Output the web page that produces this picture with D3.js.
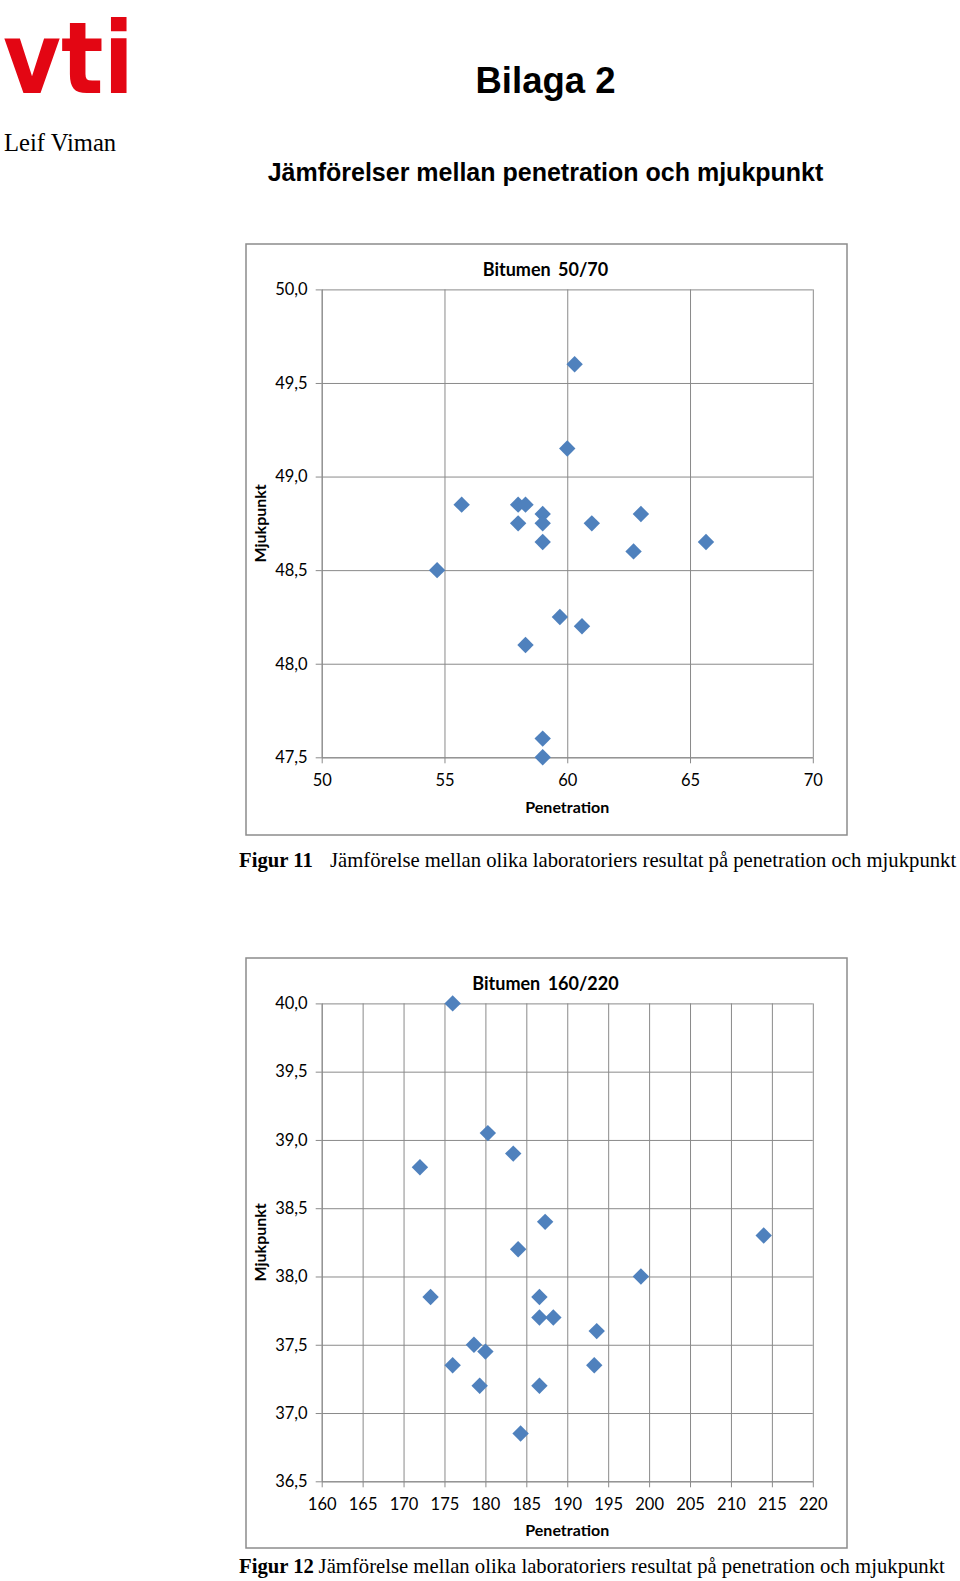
<!DOCTYPE html>
<html>
<head>
<meta charset="utf-8">
<script src="https://cdn.jsdelivr.net/npm/d3@7"></script>
<style>
  body { margin: 0; background: #fff; }
  svg { display: block; }
</style>
</head>
<body>
<div id="page"></div>
<script>
// Bitumen 50/70
const pen5070 = [60.3, 60.0, 55.7, 58.0, 58.3, 59.0, 59.0, 58.0, 59.0, 61.0, 63.0, 62.7, 65.65, 54.7, 59.7, 60.6, 58.3, 59.0, 59.0];
const mjuk5070 = [49.6, 49.15, 48.85, 48.85, 48.85, 48.8, 48.75, 48.75, 48.65, 48.75, 48.8, 48.6, 48.65, 48.5, 48.25, 48.2, 48.1, 47.6, 47.5];
const xTicks5070 = [50, 55, 60, 65, 70];
const yTicks5070 = [47.5, 48.0, 48.5, 49.0, 49.5, 50.0];

// Bitumen 160/220
const pen160220 = [176, 180.3, 183.4, 172, 187.3, 214, 184, 199, 173.3, 186.6, 186.6, 188.3, 193.6, 178.6, 180, 176, 193.3, 179.3, 186.6, 184.3];
const mjuk160220 = [40.0, 39.05, 38.9, 38.8, 38.4, 38.3, 38.2, 38.0, 37.85, 37.85, 37.7, 37.7, 37.6, 37.5, 37.45, 37.35, 37.35, 37.2, 37.2, 36.85];
const xTicks160220 = [160, 165, 170, 175, 180, 185, 190, 195, 200, 205, 210, 215, 220];
const yTicks160220 = [36.5, 37.0, 37.5, 38.0, 38.5, 39.0, 39.5, 40.0];

const W = 960, H = 1581;
const gridColor = "#8a8a8a";
const markerColor = "#4F81BD";
const chartFont = "Lato, 'Open Sans', sans-serif";

const svg = d3.select("#page").append("svg")
    .attr("width", W)
    .attr("height", H);

// header
svg.append("text")
    .attr("x", 3)
    .attr("y", 93)
    .attr("font-family", "'DejaVu Sans', sans-serif")
    .attr("font-weight", "bold")
    .attr("font-size", "99px")
    .attr("fill", "#e30613")
    .attr("textLength", 131)
    .attr("lengthAdjust", "spacingAndGlyphs")
    .text("vti");

svg.append("text")
    .attr("x", 545.5)
    .attr("y", 92.5)
    .attr("text-anchor", "middle")
    .attr("font-family", "'Liberation Sans', Arial, sans-serif")
    .attr("font-weight", "bold")
    .attr("font-size", "36.5px")
    .attr("fill", "#000")
    .text("Bilaga 2");

svg.append("text")
    .attr("x", 4)
    .attr("y", 151)
    .attr("font-family", "'Liberation Serif', 'Times New Roman', serif")
    .attr("font-size", "24.6px")
    .attr("fill", "#000")
    .text("Leif Viman");

svg.append("text")
    .attr("x", 545.5)
    .attr("y", 180.5)
    .attr("text-anchor", "middle")
    .attr("font-family", "'Liberation Sans', Arial, sans-serif")
    .attr("font-weight", "bold")
    .attr("font-size", "25px")
    .attr("fill", "#000")
    .text("Jämförelser mellan penetration och mjukpunkt");

const fmt = d => d3.format(".1f")(d).replace(".", ",");

function drawChart(cfg) {
    const frame = cfg.frame, plot = cfg.plot;
    const w = plot.right - plot.left, h = plot.bottom - plot.top;

    svg.append("rect")
        .attr("x", frame.x)
        .attr("y", frame.y)
        .attr("width", frame.w)
        .attr("height", frame.h)
        .attr("fill", "#fff")
        .attr("stroke", "#8c8c8c")
        .attr("stroke-width", 1.5);

    const x = d3.scaleLinear().domain(d3.extent(cfg.xTicks)).range([0, w]);
    const y = d3.scaleLinear().domain(d3.extent(cfg.yTicks)).range([h, 0]);

    const g = svg.append("g")
        .attr("transform", `translate(${plot.left},${plot.top})`);

    // gridlines
    g.append("g")
        .call(d3.axisLeft(y).tickValues(cfg.yTicks).tickSize(-w).tickFormat(""))
        .call(a => a.select(".domain").remove())
        .selectAll("line").attr("stroke", gridColor);

    g.append("g")
        .attr("transform", `translate(0,${h})`)
        .call(d3.axisBottom(x).tickValues(cfg.xTicks).tickSize(-h).tickFormat(""))
        .call(a => a.select(".domain").remove())
        .selectAll("line").attr("stroke", gridColor);

    // axes with labels
    const yAxis = g.append("g")
        .call(d3.axisLeft(y).tickValues(cfg.yTicks).tickSizeInner(6).tickSizeOuter(0).tickPadding(8).tickFormat(fmt));
    const xAxis = g.append("g")
        .attr("transform", `translate(0,${h})`)
        .call(d3.axisBottom(x).tickValues(cfg.xTicks).tickSizeInner(6).tickSizeOuter(0).tickPadding(11).tickFormat(d3.format("d")));

    [yAxis, xAxis].forEach(a => {
        a.select(".domain").attr("stroke", gridColor);
        a.selectAll("line").attr("stroke", gridColor);
        a.selectAll("text")
            .attr("font-family", chartFont)
            .attr("font-size", "16.5px")
            .attr("fill", "#000");
    });

    // markers
    const diamond = "M0,-8.2L8.2,0L0,8.2L-8.2,0Z";
    g.append("g")
        .selectAll("path")
        .data(cfg.xs.map((v, i) => ({pen: v, mjuk: cfg.ys[i]})))
        .enter().append("path")
            .attr("d", diamond)
            .attr("transform", d => `translate(${x(d.pen)},${y(d.mjuk)})`)
            .attr("fill", markerColor);

    // title
    svg.append("text")
        .attr("x", 545.5)
        .attr("y", cfg.titleY)
        .attr("text-anchor", "middle")
        .attr("font-family", chartFont)
        .attr("font-weight", "bold")
        .attr("font-size", "18px")
        .attr("fill", "#000")
        .attr("word-spacing", "3px")
        .text(cfg.title);

    // x axis label
    svg.append("text")
        .attr("x", plot.left + w / 2)
        .attr("y", cfg.xLabelY)
        .attr("text-anchor", "middle")
        .attr("font-family", chartFont)
        .attr("font-weight", "bold")
        .attr("font-size", "16px")
        .attr("fill", "#000")
        .text("Penetration");

    // y axis label
    svg.append("text")
        .attr("transform", `translate(260,${plot.top + h / 2}) rotate(-90)`)
        .attr("dy", "0.35em")
        .attr("text-anchor", "middle")
        .attr("font-family", chartFont)
        .attr("font-weight", "bold")
        .attr("font-size", "16px")
        .attr("fill", "#000")
        .text("Mjukpunkt");

    // caption
    const cap = svg.append("text")
        .attr("y", cfg.captionY)
        .attr("font-family", "'Liberation Serif', 'Times New Roman', serif")
        .attr("font-size", "20.7px")
        .attr("fill", "#000");
    cap.append("tspan")
        .attr("x", 239)
        .attr("font-weight", "bold")
        .text(cfg.figur);
    cap.append("tspan")
        .attr("x", cfg.captionTextX)
        .text("Jämförelse mellan olika laboratoriers resultat på penetration och mjukpunkt");
}

drawChart({
    title: "Bitumen 50/70",
    xs: pen5070, ys: mjuk5070,
    xTicks: xTicks5070, yTicks: yTicks5070,
    frame: {x: 246, y: 244, w: 601, h: 591},
    plot: {left: 321.7, right: 812.8, top: 289.4, bottom: 757.3},
    titleY: 275.5,
    xLabelY: 812.5,
    captionY: 867,
    figur: "Figur 11",
    captionTextX: 330
});

drawChart({
    title: "Bitumen 160/220",
    xs: pen160220, ys: mjuk160220,
    xTicks: xTicks160220, yTicks: yTicks160220,
    frame: {x: 246, y: 958, w: 601, h: 590},
    plot: {left: 321.7, right: 812.8, top: 1003.4, bottom: 1481.3},
    titleY: 989.5,
    xLabelY: 1535.5,
    captionY: 1573,
    figur: "Figur 12",
    captionTextX: 318.6
});
</script>
</body>
</html>
